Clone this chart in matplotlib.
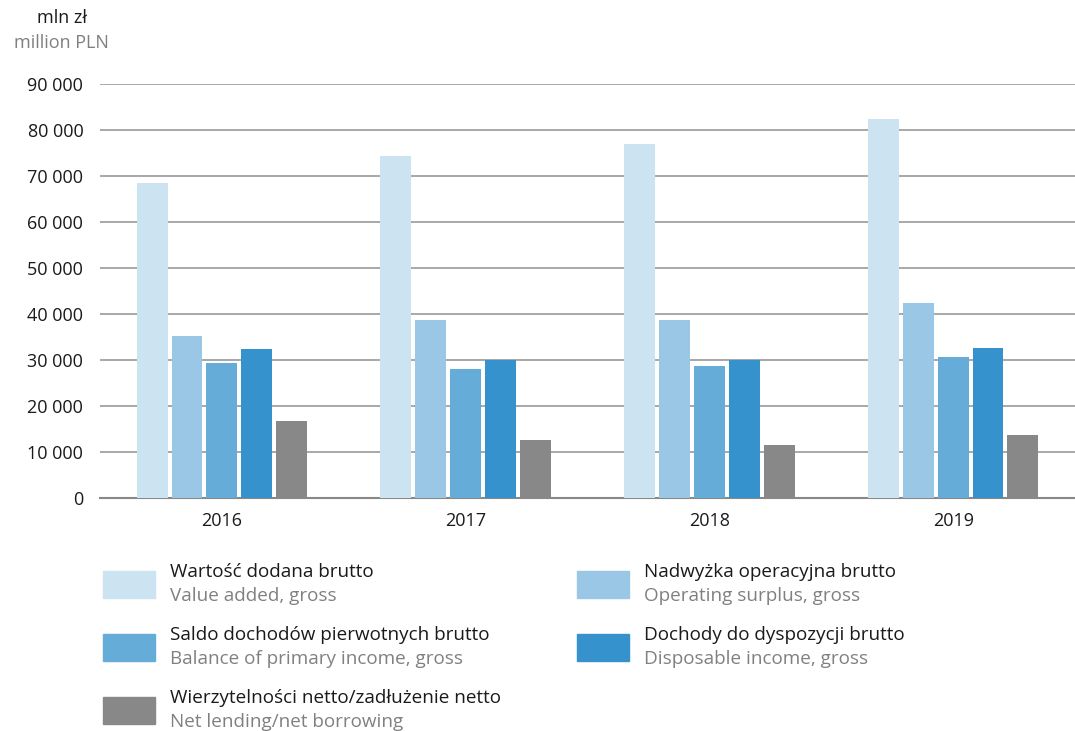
import matplotlib.pyplot as plt
import numpy as np
from matplotlib.patches import Rectangle

plt.rcParams['font.family'] = ['Open Sans', 'DejaVu Sans']

years = ['2016', '2017', '2018', '2019']
value_added = [68400, 74300, 76900, 82500]
operating_surplus = [35200, 38600, 38800, 42500]
primary_income = [29300, 28000, 28800, 30600]
disposable_income = [32500, 29900, 29900, 32700]
net_lending = [16700, 12600, 11500, 13800]

series = [value_added, operating_surplus, primary_income, disposable_income, net_lending]
colors = ['#cce3f1', '#99c7e5', '#66acd8', '#3592cc', '#888888']
labels_pl = ['Wartość dodana brutto', 'Nadwyżka operacyjna brutto',
             'Saldo dochodów pierwotnych brutto', 'Dochody do dyspozycji brutto',
             'Wierzytelności netto/zadłużenie netto']
labels_en = ['Value added, gross', 'Operating surplus, gross',
             'Balance of primary income, gross', 'Disposable income, gross',
             'Net lending/net borrowing']

W, H = 1075, 731
fig = plt.figure(figsize=(W / 100, H / 100), dpi=100)
ax = fig.add_axes([100 / W, (H - 498) / H, 975 / W, (498 - 84) / H])

x = np.arange(len(years))
bw = 0.127
step = 0.143
for i, (vals, c) in enumerate(zip(series, colors)):
    ax.bar(x + (i - 2) * step, vals, width=bw, color=c, zorder=3)

ax.set_xlim(-0.5, 3.5)
ax.set_ylim(0, 90000)
yt = np.arange(0, 90001, 10000)
ax.set_yticks(yt)
ax.set_yticklabels([f'{v:,}'.replace(',', ' ') for v in yt])
ax.set_xticks(x)
ax.set_xticklabels(years)
ax.tick_params(axis='both', length=0, labelsize=13, colors='#1a1a1a')
ax.tick_params(axis='y', pad=12)
ax.tick_params(axis='x', pad=10)
ax.grid(axis='y', color='#a8a8a8', linewidth=1.4, zorder=0)
for s in ['top', 'right', 'left']:
    ax.spines[s].set_visible(False)
ax.spines['bottom'].set_color('#888888')
ax.spines['bottom'].set_linewidth(1.5)

fig.text(62 / W, 1 - 18 / H, 'mln zł', ha='center', va='center', fontsize=13, color='#1a1a1a')
fig.text(61 / W, 1 - 43 / H, 'million PLN', ha='center', va='center', fontsize=13, color='#808080')

# legend
pos = [(103, 571), (577, 571), (103, 634), (577, 634), (103, 697)]
for (px, py), c, pl, en in zip(pos, colors, labels_pl, labels_en):
    fig.patches.append(Rectangle((px / W, 1 - (py + 27) / H), 52 / W, 27 / H,
                                 transform=fig.transFigure, color=c))
    fig.text((px + 67) / W, 1 - (py + 1) / H, pl, ha='left', va='center',
             fontsize=13.6, color='#1a1a1a')
    fig.text((px + 67) / W, 1 - (py + 25) / H, en, ha='left', va='center',
             fontsize=13.6, color='#808080')

fig.savefig('out.png', dpi=100)
